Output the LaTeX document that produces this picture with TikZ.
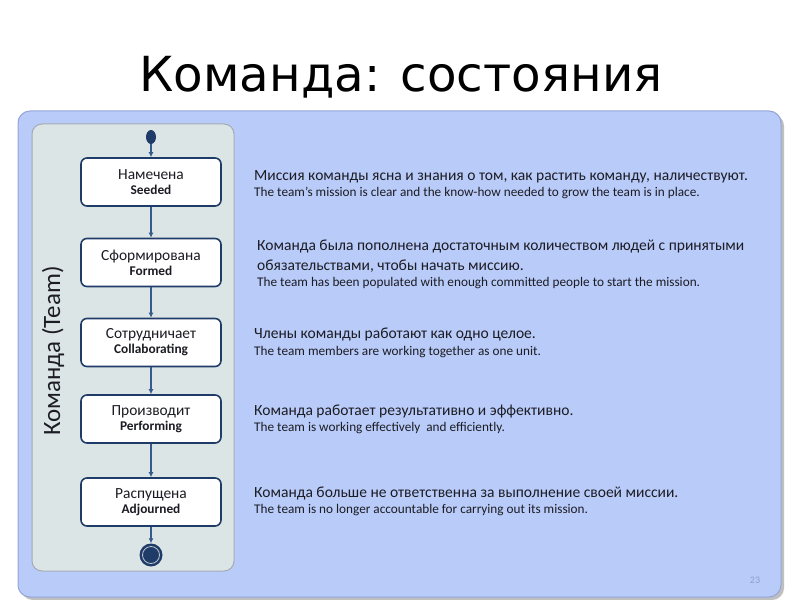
\documentclass[tikz,border=0pt]{standalone}
\usepackage{fontspec}
\setmainfont{Carlito}
\newfontfamily\titlefont{DejaVu Sans}
\usetikzlibrary{arrows.meta,shapes.geometric}
\definecolor{outerfill}{HTML}{B9CBF8}
\definecolor{outerdraw}{HTML}{95A6D6}
\definecolor{panelfill}{HTML}{DCE5E6}
\definecolor{paneldraw}{HTML}{A3ABB3}
\definecolor{navy}{HTML}{1F3B68}
\definecolor{arrowcol}{HTML}{375A8C}
\definecolor{txt}{HTML}{1C1C24}
\definecolor{pgcol}{HTML}{8E9FCB}
\tikzset{
  statebox/.style={draw=navy, line width=1.6bp, fill=white, rounded corners=6bp,
    minimum width=140bp, minimum height=48bp, align=center, text=txt, inner sep=0pt},
  flow/.style={draw=arrowcol, line width=1.4bp, -{Latex[length=5bp,width=5bp]}},
  ru/.style={anchor=base west, font=\fontsize{15.6}{18}\selectfont, text=txt, inner sep=0pt},
  en/.style={anchor=base west, font=\fontsize{13.3}{15}\selectfont, text=txt, inner sep=0pt}
}
\newcommand{\stxt}[2]{{\fontsize{15.5}{17}\selectfont #1}\\[3bp]{\fontsize{13.4}{15}\selectfont\bfseries #2}}
\begin{document}
\begin{tikzpicture}[x=1bp,y=-1bp]
\useasboundingbox (0,0) rectangle (800,600);
\fill[white] (0,0) rectangle (800,600);
% title
\node[font=\titlefont\fontsize{48.5}{55}\selectfont, text=black, inner sep=0pt] (title) at (401,77) {Команда: состояния};
% outer panel with shadow
\fill[black!25, rounded corners=12bp] (21,114) rectangle (784,600);
\draw[outerdraw, fill=outerfill, line width=1bp, rounded corners=12bp] (18,111) rectangle (781,597);
% inner panel
\draw[paneldraw, fill=panelfill, line width=1bp, rounded corners=10bp] (32,124) rectangle (234,571);
% vertical label
\node[rotate=90, font=\fontsize{25}{29}\selectfont, text=txt, inner sep=0pt] (lane) at (53,351) {Команда (Team)};
% start
\node[ellipse, fill=navy, minimum width=10bp, minimum height=14bp, inner sep=0pt] (start) at (151,137) {};
% states
\node[statebox] (s1) at (151,182) {\stxt{Намечена}{Seeded}};
\node[statebox] (s2) at (151,262.5) {\stxt{Сформирована}{Formed}};
\node[statebox] (s3) at (151,342.5) {\stxt{Сотрудничает}{Collaborating}};
\node[statebox] (s4) at (151,419) {\stxt{Производит}{Performing}};
\node[statebox] (s5) at (151,502) {\stxt{Распущена}{Adjourned}};
% end
\node[circle, fill=navy, minimum size=23bp, inner sep=0pt] (end) at (151,555) {};
\draw[white!70!navy, line width=0.8bp] (end.center) circle (8.5bp);
% connectors
\draw[flow] (start) -- (s1);
\draw[flow] (s1) -- (s2);
\draw[flow] (s2) -- (s3);
\draw[flow] (s3) -- (s4);
\draw[flow] (s4) -- (s5);
\draw[flow] (s5) -- (end);
% descriptions
\node[ru] (d1r) at (254,181) {Миссия команды ясна и знания о том, как растить команду, наличествуют.};
\node[en] (d1e) at (254,197) {The team’s mission is clear and the know-how needed to grow the team is in place.};
\node[ru] (d2r) at (257,250) {Команда была пополнена достаточным количеством людей с принятыми};
\node[ru] (d2r2) at (257,270) {обязательствами, чтобы начать миссию.};
\node[en] (d2e) at (257,286) {The team has been populated with enough committed people to start the mission.};
\node[ru] (d3r) at (254,338) {Члены команды работают как одно целое.};
\node[en] (d3e) at (254,355) {The team members are working together as one unit.};
\node[ru] (d4r) at (254,415) {Команда работает результативно и эффективно.};
\node[en] (d4e) at (254,431) {The team is working effectively~ and efficiently.};
\node[ru] (d5r) at (254,497) {Команда больше не ответственна за выполнение своей миссии.};
\node[en] (d5e) at (254,513) {The team is no longer accountable for carrying out its mission.};
% page number
\node[font=\fontsize{10}{11}\selectfont, text=pgcol, inner sep=0pt] (pg) at (755,580) {23};
\end{tikzpicture}
\end{document}
